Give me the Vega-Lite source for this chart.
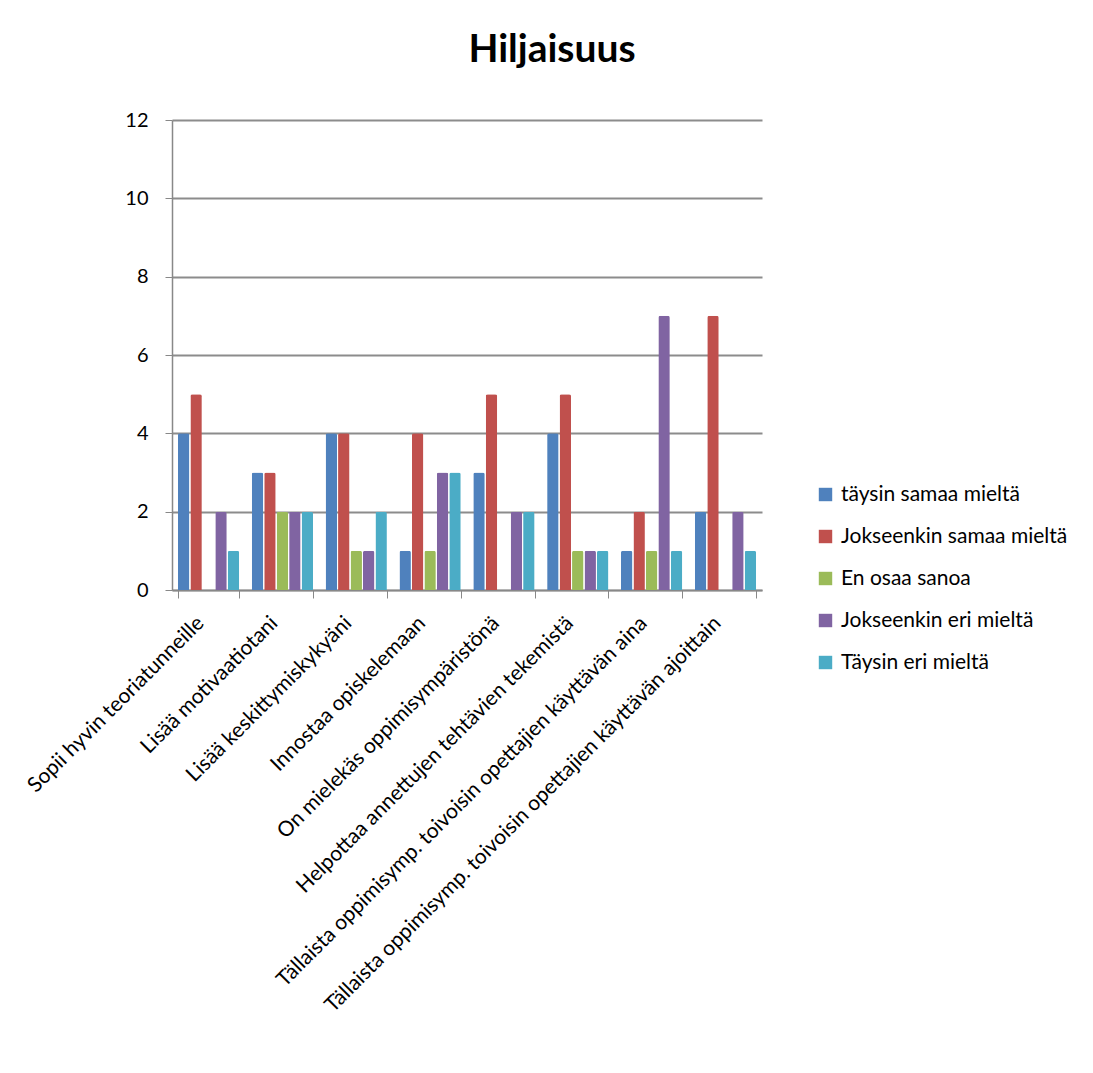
{
  "$schema": "https://vega.github.io/schema/vega-lite/v6.json",
  "width": 590,
  "height": 470,
  "autosize": {"type": "none"},
  "padding": {"left": 172, "top": 120, "right": 331, "bottom": 483},
  "background": "white",
  "config": {"font": "Lato", "view": {"stroke": null}},
  "title": {"text": "Hiljaisuus", "fontSize": 39, "font": "Lato", "fontWeight": "bold", "color": "#000", "offset": 40, "dx": 85, "anchor": "middle"},
  "data": {"values": [
    {"kysymys": "Sopii hyvin teoriatunneille", "vastaus": "täysin samaa mieltä", "maara": 4},
    {"kysymys": "Sopii hyvin teoriatunneille", "vastaus": "Jokseenkin samaa mieltä", "maara": 5},
    {"kysymys": "Sopii hyvin teoriatunneille", "vastaus": "En osaa sanoa", "maara": 0},
    {"kysymys": "Sopii hyvin teoriatunneille", "vastaus": "Jokseenkin eri mieltä", "maara": 2},
    {"kysymys": "Sopii hyvin teoriatunneille", "vastaus": "Täysin eri mieltä", "maara": 1},
    {"kysymys": "Lisää motivaatiotani", "vastaus": "täysin samaa mieltä", "maara": 3},
    {"kysymys": "Lisää motivaatiotani", "vastaus": "Jokseenkin samaa mieltä", "maara": 3},
    {"kysymys": "Lisää motivaatiotani", "vastaus": "En osaa sanoa", "maara": 2},
    {"kysymys": "Lisää motivaatiotani", "vastaus": "Jokseenkin eri mieltä", "maara": 2},
    {"kysymys": "Lisää motivaatiotani", "vastaus": "Täysin eri mieltä", "maara": 2},
    {"kysymys": "Lisää keskittymiskykyäni", "vastaus": "täysin samaa mieltä", "maara": 4},
    {"kysymys": "Lisää keskittymiskykyäni", "vastaus": "Jokseenkin samaa mieltä", "maara": 4},
    {"kysymys": "Lisää keskittymiskykyäni", "vastaus": "En osaa sanoa", "maara": 1},
    {"kysymys": "Lisää keskittymiskykyäni", "vastaus": "Jokseenkin eri mieltä", "maara": 1},
    {"kysymys": "Lisää keskittymiskykyäni", "vastaus": "Täysin eri mieltä", "maara": 2},
    {"kysymys": "Innostaa opiskelemaan", "vastaus": "täysin samaa mieltä", "maara": 1},
    {"kysymys": "Innostaa opiskelemaan", "vastaus": "Jokseenkin samaa mieltä", "maara": 4},
    {"kysymys": "Innostaa opiskelemaan", "vastaus": "En osaa sanoa", "maara": 1},
    {"kysymys": "Innostaa opiskelemaan", "vastaus": "Jokseenkin eri mieltä", "maara": 3},
    {"kysymys": "Innostaa opiskelemaan", "vastaus": "Täysin eri mieltä", "maara": 3},
    {"kysymys": "On mielekäs oppimisympäristönä", "vastaus": "täysin samaa mieltä", "maara": 3},
    {"kysymys": "On mielekäs oppimisympäristönä", "vastaus": "Jokseenkin samaa mieltä", "maara": 5},
    {"kysymys": "On mielekäs oppimisympäristönä", "vastaus": "En osaa sanoa", "maara": 0},
    {"kysymys": "On mielekäs oppimisympäristönä", "vastaus": "Jokseenkin eri mieltä", "maara": 2},
    {"kysymys": "On mielekäs oppimisympäristönä", "vastaus": "Täysin eri mieltä", "maara": 2},
    {"kysymys": "Helpottaa annettujen tehtävien tekemistä", "vastaus": "täysin samaa mieltä", "maara": 4},
    {"kysymys": "Helpottaa annettujen tehtävien tekemistä", "vastaus": "Jokseenkin samaa mieltä", "maara": 5},
    {"kysymys": "Helpottaa annettujen tehtävien tekemistä", "vastaus": "En osaa sanoa", "maara": 1},
    {"kysymys": "Helpottaa annettujen tehtävien tekemistä", "vastaus": "Jokseenkin eri mieltä", "maara": 1},
    {"kysymys": "Helpottaa annettujen tehtävien tekemistä", "vastaus": "Täysin eri mieltä", "maara": 1},
    {"kysymys": "Tällaista  oppimisymp. toivoisin opettajien käyttävän aina", "vastaus": "täysin samaa mieltä", "maara": 1},
    {"kysymys": "Tällaista  oppimisymp. toivoisin opettajien käyttävän aina", "vastaus": "Jokseenkin samaa mieltä", "maara": 2},
    {"kysymys": "Tällaista  oppimisymp. toivoisin opettajien käyttävän aina", "vastaus": "En osaa sanoa", "maara": 1},
    {"kysymys": "Tällaista  oppimisymp. toivoisin opettajien käyttävän aina", "vastaus": "Jokseenkin eri mieltä", "maara": 7},
    {"kysymys": "Tällaista  oppimisymp. toivoisin opettajien käyttävän aina", "vastaus": "Täysin eri mieltä", "maara": 1},
    {"kysymys": "Tällaista oppimisymp.  toivoisin opettajien käyttävän ajoittain", "vastaus": "täysin samaa mieltä", "maara": 2},
    {"kysymys": "Tällaista oppimisymp.  toivoisin opettajien käyttävän ajoittain", "vastaus": "Jokseenkin samaa mieltä", "maara": 7},
    {"kysymys": "Tällaista oppimisymp.  toivoisin opettajien käyttävän ajoittain", "vastaus": "En osaa sanoa", "maara": 0},
    {"kysymys": "Tällaista oppimisymp.  toivoisin opettajien käyttävän ajoittain", "vastaus": "Jokseenkin eri mieltä", "maara": 2},
    {"kysymys": "Tällaista oppimisymp.  toivoisin opettajien käyttävän ajoittain", "vastaus": "Täysin eri mieltä", "maara": 1}
  ]},
  "mark": {"type": "bar", "cornerRadiusTopLeft": 2, "cornerRadiusTopRight": 2},
  "encoding": {
    "x": {
      "field": "kysymys", "type": "nominal", "sort": null,
      "scale": {"paddingInner": 0.17, "paddingOuter": 0.08},
      "axis": {"title": null, "labelAngle": -45, "labelFontSize": 21, "labelFont": "Lato", "labelColor": "#000", "labelLimit": 800, "labelOffset": -16, "domainColor": "#888", "domainWidth": 1.5, "tickColor": "#888", "tickBand": "extent", "tickSize": 8, "labelPadding": 14}
    },
    "xOffset": {"field": "vastaus", "type": "nominal", "sort": ["täysin samaa mieltä", "Jokseenkin samaa mieltä", "En osaa sanoa", "Jokseenkin eri mieltä", "Täysin eri mieltä"], "scale": {"paddingInner": 0.08}},
    "y": {
      "field": "maara", "type": "quantitative", "scale": {"domain": [0, 12]},
      "axis": {"title": null, "values": [0, 2, 4, 6, 8, 10, 12], "grid": true, "gridColor": "#8c8c8c", "gridWidth": 2, "labelFontSize": 20, "labelFont": "Lato", "labelColor": "#000", "domainColor": "#888", "domainWidth": 1.5, "tickColor": "#888", "tickSize": 7, "labelPadding": 17}
    },
    "color": {
      "field": "vastaus", "type": "nominal",
      "sort": ["täysin samaa mieltä", "Jokseenkin samaa mieltä", "En osaa sanoa", "Jokseenkin eri mieltä", "Täysin eri mieltä"],
      "scale": {"range": ["#4F81BD", "#C0504D", "#9BBB59", "#8064A2", "#4BACC6"]},
      "legend": {"orient": "none", "legendX": 643, "legendY": 364, "title": null, "labelFontSize": 21, "labelFont": "Lato", "labelColor": "#000", "labelLimit": 400, "symbolType": "square", "symbolSize": 180, "symbolStrokeWidth": 0, "rowPadding": 20, "labelOffset": 5}
    }
  }
}
